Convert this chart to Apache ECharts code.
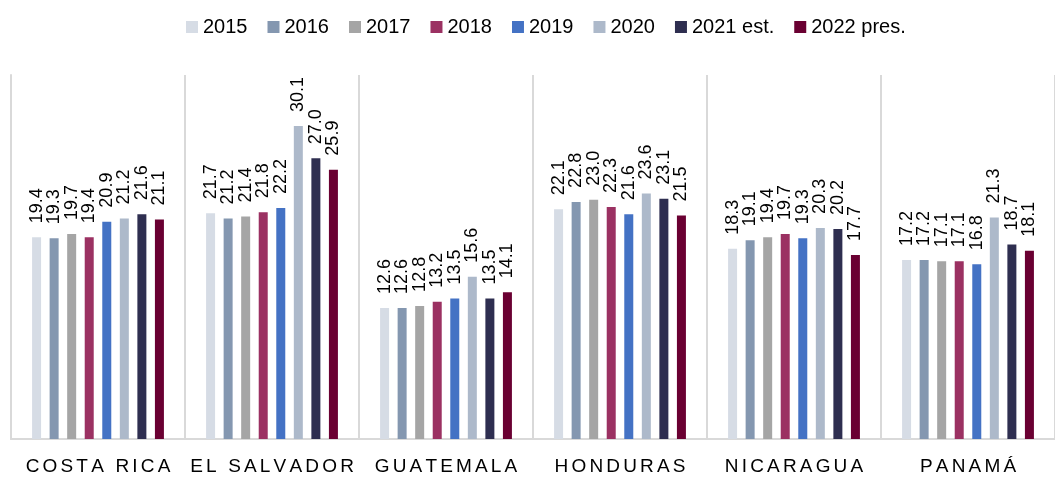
<!DOCTYPE html>
<html>
<head>
<meta charset="utf-8">
<script src="https://cdn.jsdelivr.net/npm/echarts@6/dist/echarts.min.js"></script>
<style>
html,body{margin:0;padding:0;background:#fff;}
#chart{width:1055px;height:478px;}
</style>
</head>
<body>
<div id="chart"></div>
<script>
const categories = ['COSTA RICA', 'EL SALVADOR', 'GUATEMALA', 'HONDURAS', 'NICARAGUA', 'PANAMÁ'];
const seriesNames = ['2015', '2016', '2017', '2018', '2019', '2020', '2021 est.', '2022 pres.'];
const v2015 = [19.4, 21.7, 12.6, 22.1, 18.3, 17.2];
const v2016 = [19.3, 21.2, 12.6, 22.8, 19.1, 17.2];
const v2017 = [19.7, 21.4, 12.8, 23.0, 19.4, 17.1];
const v2018 = [19.4, 21.8, 13.2, 22.3, 19.7, 17.1];
const v2019 = [20.9, 22.2, 13.5, 21.6, 19.3, 16.8];
const v2020 = [21.2, 30.1, 15.6, 23.6, 20.3, 21.3];
const v2021 = [21.6, 27.0, 13.5, 23.1, 20.2, 18.7];
const v2022 = [21.1, 25.9, 14.1, 21.5, 17.7, 18.1];
const seriesValues = [v2015, v2016, v2017, v2018, v2019, v2020, v2021, v2022];
const colors = ['#d6dce5', '#8497b0', '#a5a5a5', '#9b3162', '#4472c4', '#adb9ca', '#2e2e50', '#6a0032'];

const FONT = '"Liberation Sans", Arial, sans-serif';
const chart = echarts.init(document.getElementById('chart'), null, {renderer: 'canvas'});

const series = seriesNames.map((name, i) => ({
  name: name,
  type: 'bar',
  data: seriesValues[i],
  barWidth: 9,
  barGap: '95%',
  itemStyle: {color: colors[i]},
  label: {
    show: true,
    position: 'top',
    rotate: 90,
    distance: 14,
    align: 'left',
    verticalAlign: 'middle',
    color: '#000',
    fontSize: 18,
    fontFamily: FONT,
    formatter: p => p.value.toFixed(1)
  }
}));

chart.setOption({
  animation: false,
  backgroundColor: '#fff',
  color: colors,
  legend: {
    left: 181,
    top: 12,
    itemWidth: 12,
    itemHeight: 12,
    itemGap: 20,
    icon: 'rect',
    textStyle: {color: '#000', fontSize: 20, fontFamily: FONT},
    data: seriesNames
  },
  grid: {left: 11, top: 75, width: 1056, bottom: 39, containLabel: false},
  xAxis: {
    type: 'category',
    data: categories,
    axisTick: {show: false},
    axisLine: {show: true, lineStyle: {color: '#d9d9d9', width: 2}},
    splitLine: {show: true, interval: 0, lineStyle: {color: '#d9d9d9', width: 2}},
    axisLabel: {
      interval: 0,
      margin: 18,
      color: '#000',
      fontSize: 19,
      fontFamily: FONT,
      formatter: v => v.split('').join('\u200A\u200A')
    }
  },
  yAxis: {
    type: 'value',
    min: 0,
    max: 35,
    axisLine: {show: true, lineStyle: {color: '#d9d9d9', width: 2}},
    axisTick: {show: false},
    axisLabel: {show: false},
    splitLine: {show: false}
  },
  series: series
});
</script>
</body>
</html>
